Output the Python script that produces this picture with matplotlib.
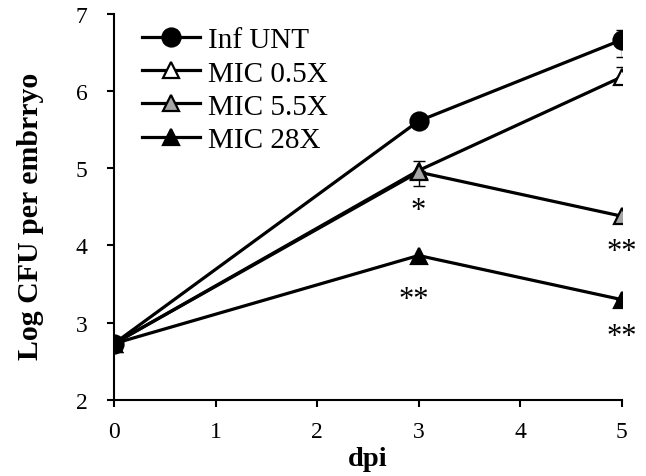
import matplotlib
matplotlib.use('Agg')
import matplotlib.pyplot as plt

# data
dpi_days = [0, 3, 5]
inf_unt = [2.73, 5.61, 6.66]
mic_05 = [2.73, 4.97, 6.18]
mic_55 = [2.73, 4.95, 4.38]
mic_28 = [2.73, 3.87, 3.30]

# error bars (lower, upper)
err_inf = [[0.0, 0.0, 0.22], [0.0, 0.0, 0.13]]
err_05 = [[0.0, 0.0, 0.0], [0.0, 0.0, 0.13]]
err_55 = [[0.0, 0.18, 0.0], [0.0, 0.14, 0.0]]
err_28 = [[0.0, 0.0, 0.0], [0.0, 0.0, 0.0]]

series_names = ['Inf UNT', 'MIC 0.5X', 'MIC 5.5X', 'MIC 28X']

# significance stars: (x, y, text)
star_x = [3, 2.95, 5, 5]
star_y = [4.45, 3.30, 3.92, 2.82]
star_txt = ['*', '**', '**', '**']

plt.rcParams['font.family'] = ['Liberation Serif', 'DejaVu Serif']

fig = plt.figure(figsize=(6.46, 4.77), dpi=100)
ax = fig.add_axes([114 / 646, 1 - 401 / 477, (621.5 - 114) / 646, (401 - 14.7) / 477])

styles = [
    (inf_unt, err_inf, 'o', 'black', 6),
    (mic_05, err_05, '^', 'white', 3),
    (mic_55, err_55, '^', '#a6a6a6', 4),
    (mic_28, err_28, '^', 'black', 5),
]

handles = []
for (vals, err, mk, fc, z), name in zip(styles, series_names):
    ax.errorbar(dpi_days, vals, yerr=err, fmt='none', ecolor='black',
                elinewidth=1.0, capsize=4, capthick=1.0, zorder=2)
    h, = ax.plot(dpi_days, vals, color='black', lw=2.3, marker=mk,
                 markersize=13 if mk == 'o' else 12, markerfacecolor=fc,
                 markeredgecolor='black', markeredgewidth=1.6, label=name, zorder=z)
    handles.append(h)

for x, y, t in zip(star_x, star_y, star_txt):
    ax.text(x, y, t, ha='center', va='center', fontsize=22)

ax.set_xlim(0, 5)
ax.set_ylim(2, 7)
ax.set_xticks([0, 1, 2, 3, 4, 5])
ax.set_yticks([2, 3, 4, 5, 6, 7])
for s in ['top', 'right']:
    ax.spines[s].set_visible(False)
for s in ['left', 'bottom']:
    ax.spines[s].set_linewidth(1.5)
ax.tick_params(axis='both', direction='out', length=5, width=1.5, labelsize=17)
ax.tick_params(axis='y', pad=14)
ax.tick_params(axis='x', pad=10)
for lab in ax.get_xticklabels() + ax.get_yticklabels():
    lab.set_clip_on(False)

ax.set_xlabel('dpi', fontsize=20.5, fontweight='bold', labelpad=3)
ax.set_ylabel('Log CFU per embrryo', fontsize=21.5, fontweight='bold')
ax.yaxis.set_label_coords(31 / 646, (477 - 216) / 477, transform=fig.transFigure)
ax.yaxis.label.set_va('center')

leg = ax.legend(handles=handles, loc='upper left', bbox_to_anchor=(142 / 646, 1 - 28 / 477),
                bbox_transform=fig.transFigure, frameon=False, fontsize=21,
                handlelength=2.0, handletextpad=0.25, labelspacing=0.23, borderpad=0,
                borderaxespad=0)

fig.savefig('out.png', dpi=100)
